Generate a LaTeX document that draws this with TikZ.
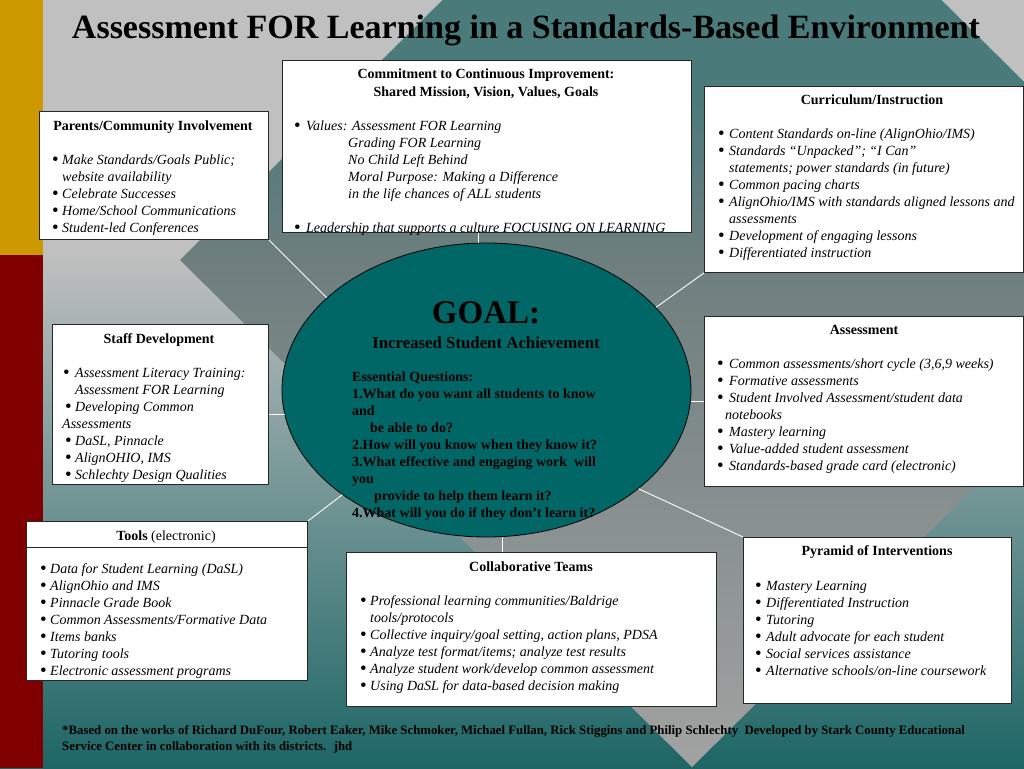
\documentclass[tikz,border=0pt]{standalone}
\usepackage{fontspec}
\setmainfont{Liberation Serif}
\usetikzlibrary{shapes.geometric}
\definecolor{gold}{HTML}{CC9900}
\definecolor{darkred}{HTML}{800000}
\definecolor{lgray}{HTML}{C0C0C0}
\definecolor{bteal}{HTML}{1E6666}
\definecolor{dteal}{HTML}{4A7A7A}
\definecolor{mgray}{HTML}{6E7E7E}
\definecolor{pgray}{HTML}{A2A2A2}
\definecolor{goalteal}{HTML}{006666}
\pgfdeclareverticalshading{basesh}{100bp}{color(0bp)=(bteal); color(25bp)=(bteal); color(58.7bp)=(lgray); color(100bp)=(lgray)}
\pgfdeclareverticalshading{diasm}{100bp}{color(0bp)=(pgray); color(25bp)=(pgray); color(50bp)=(mgray); color(58bp)=(dteal); color(100bp)=(dteal)}
\newcommand{\bul}[1]{\makebox[#1pt][l]{\raisebox{-1.8pt}{\scalebox{1.35}{\upshape\textbullet}}}}
\begin{document}
\begin{tikzpicture}[x=1pt,y=-1pt,
  tbox/.style={draw=black!85, line width=0.9pt, fill=white, inner sep=0pt, anchor=north west},
  ttl/.style={font=\bfseries\fontsize{14}{17}\selectfont, anchor=base, inner sep=0pt},
  bodytxt/.style={font=\itshape\fontsize{14}{17}\selectfont, anchor=base west, inner sep=0pt},
  goaltxt/.style={font=\bfseries\fontsize{14}{17}\selectfont, anchor=base west, inner sep=0pt},
  link/.style={draw=white, line width=0.9pt}]
\useasboundingbox (0,0) rectangle (1024,768);
\begin{scope}
\clip (0,0) rectangle (1024,768);
\shade[shading=basesh] (0,0) rectangle (1024,768);
\shade[shading=diasm] (180,260) -- (692,-247) -- (1204,260) -- (692,767) -- cycle;
\fill[gold] (0,0) rectangle (43,255);
\fill[darkred] (0,255) rectangle (43,768);
\end{scope}

% title
\node[font=\bfseries\fontsize{34}{40}\selectfont, anchor=base, inner sep=0pt] (title) at (526,38) {Assessment FOR Learning in a Standards-Based Environment};

% goal ellipse
\node[ellipse, draw=black, line width=0.8pt, fill=goalteal, minimum width=409pt, minimum height=294pt, inner sep=0pt] (goal) at (486.5,390) {};
\node[font=\bfseries\fontsize{33}{38}\selectfont, anchor=base, inner sep=0pt] (goalhead) at (486,323) {GOAL:};
\node[font=\bfseries\fontsize{16.8}{20}\selectfont, anchor=base, inner sep=0pt] (goalsub) at (486,348) {Increased Student Achievement};
\node[goaltxt] (goalq) at (352,381) {\begin{tabular}[t]{@{}l@{}}
Essential Questions:\\
1.What do you want all students to know\\
and\\
\hspace*{18pt}be able to do?\\
2.How will you know when they know it?\\
3.What effective and engaging work~ will\\
you\\
\hspace*{22pt}provide to help them learn it?\\
4.What will you do if they don’t learn it?
\end{tabular}};

% boxes
\node[tbox, minimum width=229pt, minimum height=128pt] (parents) at (39,111) {};
\node[tbox, minimum width=409pt, minimum height=172pt] (commit) at (282,60) {};
\node[tbox, minimum width=319pt, minimum height=186pt] (curric) at (704,86) {};
\node[tbox, minimum width=216pt, minimum height=160pt] (staff) at (52,324) {};
\node[tbox, minimum width=319pt, minimum height=170pt] (assess) at (704,316) {};
\node[tbox, minimum width=281pt, minimum height=159pt] (tools) at (26,521) {};
\node[tbox, minimum width=370pt, minimum height=154pt] (collab) at (346,552) {};
\node[tbox, minimum width=268pt, minimum height=166pt] (pyr) at (743,537) {};

% connectors
\draw[link] (parents.south east) -- (goal.150.5);
\draw[link] (goal.93.7) -- (goal.93.7 |- commit.south);
\draw[link] (curric.south west) -- (goal.26.5);
\draw[link] (goal.187.65) -- (goal.187.65 -| staff.east);
\draw[link] (assess.west) -- (assess.west -| goal.east);
\draw[link] (tools.north east) -- (goal.216);
\draw[link] (goal.276.4) -- (goal.276.4 |- collab.north);
\draw[link] (pyr.north west) -- (goal.327.7);

% Parents
\node[ttl] (parents-t) at (153,130) {Parents/Community Involvement};
\node[bodytxt] (parents-b) at (52,164) {\begin{tabular}[t]{@{}l@{}}
\bul{10}Make Standards/Goals Public;\\
\hspace*{10pt}website availability\\
\bul{10}Celebrate Successes\\
\bul{10}Home/School Communications\\
\bul{10}Student-led Conferences
\end{tabular}};

% Commitment
\node[ttl] (commit-t1) at (486,78) {Commitment to Continuous Improvement:};
\node[ttl] (commit-t2) at (486,96) {Shared Mission, Vision, Values, Goals};
\node[bodytxt] (commit-b) at (294,130) {\begin{tabular}[t]{@{}l@{}}
\bul{12}Values: Assessment FOR Learning\\
\hspace*{54pt}Grading FOR Learning\\
\hspace*{54pt}No Child Left Behind\\
\hspace*{54pt}Moral Purpose: Making a Difference\\
\hspace*{54pt}in the life chances of ALL students\\
\\
\bul{12}Leadership that supports a culture FOCUSING ON LEARNING
\end{tabular}};

% Curriculum
\node[ttl] (curric-t) at (872,104) {Curriculum/Instruction};
\node[bodytxt] (curric-b) at (718,138) {\begin{tabular}[t]{@{}l@{}}
\bul{11}Content Standards on-line (AlignOhio/IMS)\\
\bul{11}Standards “Unpacked”; “I Can”\\
\hspace*{11pt}statements; power standards (in future)\\
\bul{11}Common pacing charts\\
\bul{11}AlignOhio/IMS with standards aligned lessons and\\
\hspace*{11pt}assessments\\
\bul{11}Development of engaging lessons\\
\bul{11}Differentiated instruction
\end{tabular}};

% Staff development
\node[ttl] (staff-t) at (159,343) {Staff Development};
\node[bodytxt] (staff-b) at (62,377) {\begin{tabular}[t]{@{}l@{}}
\hspace*{1pt}\bul{12}Assessment Literacy Training:\\
\hspace*{13pt}Assessment FOR Learning\\
\hspace*{3pt}\bul{10}Developing Common\\
Assessments\\
\hspace*{3pt}\bul{10}DaSL, Pinnacle\\
\hspace*{3pt}\bul{10}AlignOHIO, IMS\\
\hspace*{3pt}\bul{10}Schlechty Design Qualities
\end{tabular}};

% Assessment
\node[ttl] (assess-t) at (864,334) {Assessment};
\node[bodytxt] (assess-b) at (717,368) {\begin{tabular}[t]{@{}l@{}}
\bul{12}Common assessments/short cycle (3,6,9 weeks)\\
\bul{12}Formative assessments\\
\bul{12}Student Involved Assessment/student data\\
\hspace*{8pt}notebooks\\
\bul{12}Mastery learning\\
\bul{12}Value-added student assessment\\
\bul{12}Standards-based grade card (electronic)
\end{tabular}};

% Tools
\draw[draw=black!85, line width=0.9pt] ([yshift=-26pt]tools.north west) -- ([yshift=-26pt]tools.north east);
\node[font=\fontsize{14}{17}\selectfont, anchor=base, inner sep=0pt] (tools-t) at (166,540) {\textbf{Tools} (electronic)};
\node[bodytxt] (tools-b) at (40,573) {\begin{tabular}[t]{@{}l@{}}
\bul{10}Data for Student Learning (DaSL)\\
\bul{10}AlignOhio and IMS\\
\bul{10}Pinnacle Grade Book\\
\bul{10}Common Assessments/Formative Data\\
\bul{10}Items banks\\
\bul{10}Tutoring tools\\
\bul{10}Electronic assessment programs
\end{tabular}};

% Collaborative teams
\node[ttl] (collab-t) at (531,571) {Collaborative Teams};
\node[bodytxt] (collab-b) at (360,605) {\begin{tabular}[t]{@{}l@{}}
\bul{10}Professional learning communities/Baldrige\\
\hspace*{10pt}tools/protocols\\
\bul{10}Collective inquiry/goal setting, action plans, PDSA\\
\bul{10}Analyze test format/items; analyze test results\\
\bul{10}Analyze student work/develop common assessment\\
\bul{10}Using DaSL for data-based decision making
\end{tabular}};

% Pyramid
\node[ttl] (pyr-t) at (877,555) {Pyramid of Interventions};
\node[bodytxt] (pyr-b) at (755,590) {\begin{tabular}[t]{@{}l@{}}
\bul{11}Mastery Learning\\
\bul{11}Differentiated Instruction\\
\bul{11}Tutoring\\
\bul{11}Adult advocate for each student\\
\bul{11}Social services assistance\\
\bul{11}Alternative schools/on-line coursework
\end{tabular}};

% footer
\node[font=\bfseries\fontsize{12.8}{16}\selectfont, anchor=base west, inner sep=0pt] (footer) at (62,734) {\begin{tabular}[t]{@{}l@{}}
*Based on the works of Richard DuFour, Robert Eaker, Mike Schmoker, Michael Fullan, Rick Stiggins and Philip Schlechty~ Developed by Stark County Educational\\
Service Center in collaboration with its districts.~ jhd
\end{tabular}};
\end{tikzpicture}
\end{document}
